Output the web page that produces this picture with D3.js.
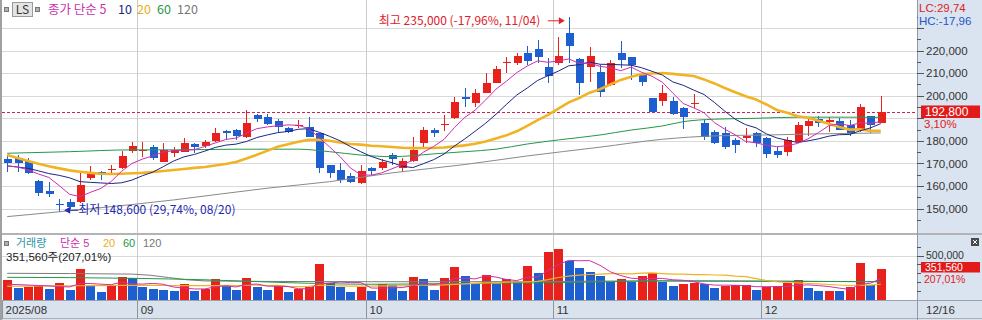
<!DOCTYPE html>
<html><head><meta charset="utf-8">
<script src="https://cdn.jsdelivr.net/npm/d3@7/dist/d3.min.js"></script>
<style>html,body{margin:0;padding:0;background:#fff;overflow:hidden}svg{display:block}</style>
</head><body><svg id="chart" width="982" height="320"></svg>
<script>
// ---------------- DATA ----------------
const dates = ["08/12","08/13","08/14","08/18","08/19","08/20","08/21","08/22","08/25","08/26","08/27","08/28","08/29",
"09/01","09/02","09/03","09/04","09/05","09/08","09/09","09/10","09/11","09/12","09/15","09/16","09/17","09/18","09/19","09/22","09/23","09/24","09/25","09/26","09/29","09/30",
"10/01","10/02","10/10","10/13","10/14","10/15","10/16","10/17","10/20","10/21","10/22","10/23","10/24","10/27","10/28","10/29","10/30","10/31",
"11/03","11/04","11/05","11/06","11/07","11/10","11/11","11/12","11/13","11/14","11/17","11/18","11/19","11/20","11/21","11/24","11/25","11/26","11/27","11/28",
"12/01","12/02","12/03","12/04","12/05","12/08","12/09","12/10","12/11","12/12","12/15","12/16"];
const open = [171800,172300,171100,162200,157900,152100,153000,153000,163700,166200,
167300,168100,175700,175900,177400,170800,174500,175200,178600,177700,
180100,184500,184800,181900,191500,190700,188800,185900,187000,186000,
183400,169300,167100,164400,161500,168100,167800,173700,167800,171200,
178900,184800,187400,190000,199600,196900,201400,205800,214800,214700,
218800,220600,212900,214400,227700,216200,212900,210700,204800,218800,
217100,209200,198900,197800,197800,194500,196600,187800,183800,183400,
180400,181800,183600,181200,175700,175200,179600,186600,189600,188900,
189000,187100,184800,191000,188100];
const close = [170100,170100,165600,156800,156300,152000,150800,160400,166300,165000,
167500,173300,177700,176000,172300,176000,176000,178900,177200,179600,
183600,183600,182300,187800,189700,187400,186300,184100,187100,181900,
167800,165600,162700,161900,166800,166800,170800,171800,171200,176000,
184800,183600,187600,197400,198600,201100,205800,211800,214900,217700,
215600,217300,208800,217700,222200,205800,217700,201800,214400,215900,
213700,206300,192900,201100,191800,190700,196800,181900,179200,177200,
178200,182000,178900,174200,173700,180400,187100,189000,188100,189100,
184800,182900,195200,187000,192800];
const high = [173700,173700,172400,162700,161900,154100,154100,166300,168900,166500,
169300,175700,179600,179600,178200,178900,177400,181200,178900,180400,
185600,184800,185100,193700,191800,191900,189600,186300,189300,190500,
183600,169500,170100,165600,169300,168600,171800,174500,172300,181900,
186000,185600,191500,199600,203300,202900,210200,213200,217100,218800,
222100,224700,216600,226200,235000,216600,221800,213700,215900,224400,
217300,210200,199000,204800,199600,195200,200800,189300,184800,186000,
181200,185600,184100,181600,177400,181600,188500,190700,191000,190500,
190000,189300,196200,191100,199900];
const low = [166200,166200,165200,155600,155300,148600,149800,152300,162700,162700,
165300,167700,174500,173000,171500,170500,173000,174900,174500,176900,
179600,180400,180400,181200,188500,187000,183800,183600,185600,181600,
165900,163400,161200,161200,160900,164900,167100,169300,166300,170800,
177400,181600,184500,189600,194900,195200,201100,205500,210000,213700,
213700,214700,205800,213700,214400,200400,206300,199300,204300,212200,
207000,204300,192800,195500,191500,185300,194500,180400,178600,176300,
174800,178900,177200,172300,172300,173300,178900,182200,186300,184100,
184600,182200,184100,183600,187800];
const volume = [222600,127600,146000,157500,120000,185000,108000,344700,154000,82000,
157500,253000,242000,146000,120000,108000,97000,177000,100000,120000,
230000,157000,108000,242000,146000,108000,154000,89000,116000,146000,
405000,185000,146000,82000,146000,97000,177000,165000,97000,253000,
230000,108000,242000,367000,268000,192000,280000,173000,230000,203000,
382000,299000,539000,573000,443000,356000,310000,268000,203000,230000,
203000,268000,299000,203000,154000,173000,185000,173000,135000,154000,
165000,168000,108000,139000,154000,185000,222000,135000,97000,100000,
97000,146000,420000,169830,351560];
const ma5Head  = [168900,168400,167100,165300];
const ma10Head = [168900,168400,167800,166700,165500,164700,163600,161900,161600];
const ma20Head = [173700,172400,171100,169800,168700,167800,166900,166300,165800,165400,
                  165300,165400,165600,165800,166200,166600,167100,167500,168000];
const ma60Pts  = [[0,174500],[6,175200],[12,176000],[16,176000],[22,176300],[25,176300],[28,176300],[31,175200],
                  [34,173700],[37,173000],[41,174200],[44,175200],[47,176300],[50,178600],[53,180400],[57,182600],
                  [60,184800],[63,186600],[65,188500],[68,189600],[72,190000],[76,190500],[81,190500],[84,190400]];
const ma120Pts = [[0,146400],[16,153800],[25,159000],[31,161900],[37,165800],[44,169500],[50,173300],
                  [57,177200],[63,180700],[68,182200],[73,182600],[78,183100],[84,183500]];
const volMa5Head  = [175000,170000,165000,160000];
const volMa20Head = [150000,152000,153000,154000,155000,156000,156000,157000,158000,159000,
                     160000,161000,162000,162000,161000,160000,159000,158000,158000];
const volMa60Pts  = [[0,253000],[12,242000],[19,225000],[27,192000],[35,174000],[44,183000],[53,192000],[63,211000],[72,208000],[84,203000]];
const volMa120Pts = [[0,299000],[12,290000],[19,212000],[28,205000],[35,203000],[44,203000],[52,205000],[63,214000],[72,211000],[84,203000]];
const priceTicks = [150000,160000,170000,180000,190000,200000,210000,220000,230000];
const volTicks = [500000];
const monthStarts = ["08/12","09/01","10/01","11/03","12/01"];
const monthLabels = ["2025/08","09","10","11","12"];

// ---------------- SETUP ----------------
const FONT = "'Noto Sans CJK KR','Noto Sans',sans-serif";
const RFONT = "'Liberation Sans',Arial,sans-serif";
const MFONT = "'Liberation Sans','Noto Sans CJK KR',sans-serif";
const W = 982, H = 320, AX = 917;
const RED = "#e8211d", BLUE = "#1e5fd0";
const C5 = "#cc2fae", C10 = "#1c2682", C20 = "#f0b324", C60 = "#23984a", C120 = "#8a8a8a";
const n = dates.length;
const svg = d3.select("#chart").attr("font-family", FONT);

const xi = d3.scaleLinear().domain([-0.5, n - 0.5]).range([2, 886]);
const y  = d3.scaleLinear().domain([150000, 230000]).range([208.5, 28.1]);
const yv = d3.scaleLinear().domain([0, 500000]).range([299.5, 255.7]);

function rolling(vals, win, head) {
  return vals.map((v, i) => i < win - 1 ? head[i] : d3.mean(vals.slice(i - win + 1, i + 1)));
}
const ma5 = rolling(close, 5, ma5Head), ma10 = rolling(close, 10, ma10Head), ma20 = rolling(close, 20, ma20Head);
const vma5 = rolling(volume, 5, volMa5Head), vma20 = rolling(volume, 20, volMa20Head);
const last = close[n - 1];
const lastV = volume[n - 1];

// backgrounds
svg.append("rect").attr("width", W).attr("height", H).attr("fill", "#fff");
svg.append("rect").attr("x", AX).attr("y", 0).attr("width", W - AX).attr("height", H).attr("fill", "#dae4f0");
svg.append("rect").attr("x", 0).attr("y", 300).attr("width", W).attr("height", 20).attr("fill", "#d9e2ed");

const defs = svg.append("defs");
defs.append("clipPath").attr("id", "cp").append("rect").attr("x", 2).attr("y", 0).attr("width", AX - 2).attr("height", 233);
defs.append("clipPath").attr("id", "cv").append("rect").attr("x", 2).attr("y", 236).attr("width", AX - 2).attr("height", 64);

// gridlines
const grid = svg.append("g").attr("shape-rendering", "crispEdges");
grid.selectAll(".hg").data(priceTicks).join("line")
  .attr("x1", 2).attr("x2", AX).attr("y1", d => Math.round(y(d)) + 0.5).attr("y2", d => Math.round(y(d)) + 0.5)
  .attr("stroke", "#d9d9d9");
grid.selectAll(".vg").data(volTicks).join("line")
  .attr("x1", 2).attr("x2", AX).attr("y1", d => Math.round(yv(d)) + 0.5).attr("y2", d => Math.round(yv(d)) + 0.5)
  .attr("stroke", "#d9d9d9");
const monthIdx = monthStarts.map(d => dates.indexOf(d));
grid.selectAll(".mg").data(monthIdx.slice(1)).join("line")
  .attr("x1", d => Math.round(xi(d - 0.5)) + 0.5).attr("x2", d => Math.round(xi(d - 0.5)) + 0.5)
  .attr("y1", 0).attr("y2", 300).attr("stroke", "#cacaca");

// ---------------- PRICE PANEL ----------------
const pp = svg.append("g").attr("clip-path", "url(#cp)");
pp.append("line").attr("x1", 2).attr("x2", AX).attr("y1", Math.round(y(last)) + 0.5).attr("y2", Math.round(y(last)) + 0.5)
  .attr("stroke", "#d61f4f").attr("stroke-dasharray", "3,2").attr("shape-rendering", "crispEdges");

function candleColor(i) {
  if (close[i] > open[i]) return RED;
  if (close[i] < open[i]) return BLUE;
  return (i > 0 && close[i] < close[i - 1]) ? BLUE : RED;
}
const cg = pp.append("g").attr("shape-rendering", "crispEdges");
d3.range(n).forEach(i => {
  const cx = Math.round(xi(i)), col = candleColor(i);
  cg.append("line").attr("x1", cx + 0.5).attr("x2", cx + 0.5).attr("y1", y(high[i])).attr("y2", y(low[i])).attr("stroke", col);
  const t = y(Math.max(open[i], close[i])), b = y(Math.min(open[i], close[i]));
  cg.append("rect").attr("x", cx - 3.5).attr("width", 8).attr("y", t).attr("height", Math.max(1.2, b - t)).attr("fill", col);
});

const lineI = sc => d3.line().x((d, i) => xi(i)).y(d => sc(d));
const lineP = sc => d3.line().x(d => xi(d[0])).y(d => sc(d[1])).curve(d3.curveMonotoneX);
pp.append("path").attr("d", lineP(y)(ma120Pts)).attr("fill", "none").attr("stroke", C120).attr("stroke-width", 1);
pp.append("path").attr("d", lineP(y)(ma60Pts)).attr("fill", "none").attr("stroke", C60).attr("stroke-width", 1);
pp.append("path").attr("d", lineI(y)(ma20)).attr("fill", "none").attr("stroke", C20).attr("stroke-width", 2.6);
pp.append("path").attr("d", lineI(y)(ma10)).attr("fill", "none").attr("stroke", C10).attr("stroke-width", 1);
pp.append("path").attr("d", lineI(y)(ma5)).attr("fill", "none").attr("stroke", C5).attr("stroke-width", 1);

// ---------------- VOLUME PANEL ----------------
const vp = svg.append("g").attr("clip-path", "url(#cv)");
const vg = vp.append("g").attr("shape-rendering", "crispEdges");
d3.range(n).forEach(i => {
  const cx = Math.round(xi(i));
  const col = (i === 0 || volume[i] >= volume[i - 1]) ? RED : BLUE;
  vg.append("rect").attr("x", cx - 4).attr("width", 9).attr("y", yv(volume[i])).attr("height", yv(0) - yv(volume[i])).attr("fill", col);
});
vp.append("path").attr("d", lineP(yv)(volMa120Pts)).attr("fill", "none").attr("stroke", "#7c7c7c").attr("stroke-width", 1);
vp.append("path").attr("d", lineP(yv)(volMa60Pts)).attr("fill", "none").attr("stroke", C60).attr("stroke-width", 1);
vp.append("path").attr("d", lineI(yv)(vma20)).attr("fill", "none").attr("stroke", C20).attr("stroke-width", 1.2);
vp.append("path").attr("d", lineI(yv)(vma5)).attr("fill", "none").attr("stroke", C5).attr("stroke-width", 1);

// ---------------- FRAMES ----------------
const fr = svg.append("g").attr("shape-rendering", "crispEdges");
fr.append("rect").attr("x", 0).attr("y", 233).attr("width", W).attr("height", 2).attr("fill", "#b4b4b4");
fr.append("line").attr("x1", 0).attr("x2", W).attr("y1", 300.5).attr("y2", 300.5).attr("stroke", "#9aa3ad");
fr.append("line").attr("x1", 0).attr("x2", W).attr("y1", 318.5).attr("y2", 318.5).attr("stroke", "#a8b0ba");
fr.append("line").attr("x1", AX + 0.5).attr("x2", AX + 0.5).attr("y1", 0).attr("y2", H).attr("stroke", "#8e9aa8");
fr.append("rect").attr("x", 0).attr("y", 0).attr("width", 2).attr("height", H).attr("fill", "#a0a0a0");

// ---------------- AXES ----------------
function styleAxis(g, fs) {
  g.select(".domain").remove();
  g.attr("font-family", RFONT).attr("font-size", fs);
  g.selectAll("line").attr("stroke", "#555").attr("shape-rendering", "crispEdges");
  g.selectAll("text").attr("fill", "#333");
}
const yl = y(last);
// labels hidden by the current-price box or the LC/HC header are not drawn (as in the original)
const priceLabel = d => (Math.abs(y(d) - yl) < 13 || y(d) < 33) ? "" : d3.format(",")(d);

const gMinor = svg.append("g").attr("transform", `translate(${AX},0)`)
  .call(d3.axisRight(y).tickValues(d3.range(145000, 240000, 5000)).tickSize(4).tickFormat(""));
styleAxis(gMinor, 11);
const gY = svg.append("g").attr("transform", `translate(${AX},0)`)
  .call(d3.axisRight(y).tickValues(priceTicks).tickFormat(priceLabel).tickSize(7).tickPadding(2));
styleAxis(gY, 11.5);
const gVm = svg.append("g").attr("transform", `translate(${AX},0)`)
  .call(d3.axisRight(yv).tickValues(d3.range(100000, 700000, 100000)).tickSize(4).tickFormat(""));
styleAxis(gVm, 10.5);
const gV = svg.append("g").attr("transform", `translate(${AX},0)`)
  .call(d3.axisRight(yv).tickValues(volTicks).tickFormat(d3.format(",")).tickSize(7).tickPadding(2));
styleAxis(gV, 10.5);
gV.selectAll("text").attr("dy", "0.25em");

const gX = svg.append("g").attr("transform", "translate(0,300)")
  .call(d3.axisBottom(xi).tickValues(monthIdx.map(i => i - 0.5)).tickFormat((d, j) => monthLabels[j]).tickSize(19).tickPadding(0));
gX.select(".domain").remove();
gX.attr("font-family", RFONT).attr("font-size", 11.5);
gX.selectAll("line").attr("stroke", "#8c96a2").attr("shape-rendering", "crispEdges");
gX.selectAll("text").attr("fill", "#333").attr("text-anchor", "start").attr("x", 3).attr("y", 10).attr("dy", "0.35em");
svg.append("text").attr("x", 926).attr("y", 309.5).attr("dy", "0.35em").attr("font-family", RFONT).attr("font-size", 11.5).attr("fill", "#333").text(dates[n - 1]);

// ---------------- RIGHT LABELS ----------------
const fmt = d3.format(",");
const pctStr = v => v.toFixed(2).replace(".", ",");
const hiIdx = d3.maxIndex(high), loIdx = d3.minIndex(low);
const rt = (xp, yp, fs, col, txt) => svg.append("text").attr("x", xp).attr("y", yp).attr("dy", "0.35em")
  .attr("font-family", RFONT).attr("font-size", fs).attr("fill", col).text(txt);
svg.append("rect").attr("x", AX + 1).attr("y", 0).attr("width", W - AX - 1).attr("height", 26).attr("fill", "#dae4f0");
rt(919, 8.2, 11.5, "#e02020", "LC:" + pctStr((last - low[loIdx]) / low[loIdx] * 100));
rt(919, 21, 11.5, "#2456c8", "HC:" + pctStr((last - high[hiIdx]) / high[hiIdx] * 100));

svg.append("rect").attr("x", 921).attr("y", yl - 6.5).attr("width", 59).attr("height", 12.5).attr("fill", "#e21a1a");
rt(925, yl - 0.3, 12, "#fff", fmt(last));
rt(924, yl + 11.8, 11.5, "#e02020", pctStr((last - close[n - 2]) / close[n - 2] * 100) + "%");

svg.append("rect").attr("x", 921).attr("y", 262).attr("width", 59).attr("height", 10.5).attr("fill", "#e21a1a");
rt(925, 267.3, 10.5, "#fff", fmt(lastV));
rt(924, 279.4, 10.5, "#e02020", pctStr(lastV / volume[n - 2] * 100) + "%");
// small close button
svg.append("rect").attr("x", 971).attr("y", 238).attr("width", 8).attr("height", 8).attr("fill", "#4a4a4a");
svg.append("path").attr("d", "M973,240L977,244M977,240L973,244").attr("stroke", "#fff").attr("stroke-width", 1);

// ---------------- LEGENDS ----------------
function sq(xp, yp) {
  svg.append("rect").attr("x", xp + 0.5).attr("y", yp + 0.5).attr("width", 4).attr("height", 4)
    .attr("fill", "#b0b0b0").attr("stroke", "#777").attr("shape-rendering", "crispEdges");
}
sq(4, 7); sq(35, 7);
svg.append("rect").attr("x", 12.5).attr("y", 2.5).attr("width", 20).attr("height", 14).attr("fill", "#e4e4e4").attr("stroke", "#9a9a9a");
svg.append("text").attr("x", 22.5).attr("y", 10).attr("dy", "0.35em").attr("text-anchor", "middle").attr("font-size", 12).attr("fill", "#333").text("LS");
[["종가 단순 5", C5, 48], ["10", C10, 118], ["20", "#e8b020", 137], ["60", C60, 157], ["120", "#777", 177]].forEach(([t, c, xp]) =>
  svg.append("text").attr("x", xp).attr("y", 10).attr("dy", "0.35em").attr("font-size", 12.5).attr("fill", c).text(t));

sq(4, 241);
[["거래량", "#2f93a8", 16], ["단순 5", C5, 60], ["20", "#e8b020", 103], ["60", C60, 123], ["120", "#777", 143]].forEach(([t, c, xp]) =>
  svg.append("text").attr("x", xp).attr("y", 243.5).attr("dy", "0.35em").attr("font-family", MFONT).attr("font-size", 11).attr("fill", c).text(t));
svg.append("text").attr("x", 6).attr("y", 257).attr("dy", "0.35em").attr("font-family", MFONT).attr("font-size", 11.5).attr("fill", "#222")
  .text(fmt(lastV) + "주(" + pctStr(lastV / volume[n - 2] * 100) + "%)");

// ---------------- HIGH / LOW ANNOTATIONS ----------------
const hx = xi(hiIdx), hy = y(high[hiIdx]);
svg.append("text").attr("x", hx - 190).attr("y", hy + 3.5).attr("dy", "0.35em").attr("font-size", 12).attr("fill", "#e0202a")
  .text("최고 " + fmt(high[hiIdx]) + " (" + pctStr((last - high[hiIdx]) / high[hiIdx] * 100) + "%, " + dates[hiIdx] + ")");
svg.append("line").attr("x1", hx - 21).attr("x2", hx - 9).attr("y1", hy + 4).attr("y2", hy + 4).attr("stroke", "#e0202a");
svg.append("path").attr("d", `M${hx - 4},${hy + 4}L${hx - 10},${hy + 0.5}L${hx - 10},${hy + 7.5}Z`).attr("fill", "#e0202a");

const lx = xi(loIdx), ly = y(low[loIdx]);
svg.append("text").attr("x", lx + 19).attr("y", ly - 1.5).attr("dy", "0.35em").attr("font-size", 12).attr("fill", "#1f2bb0")
  .text("최저 " + fmt(low[loIdx]) + " (" + pctStr((last - low[loIdx]) / low[loIdx] * 100) + "%, " + dates[loIdx] + ")");
svg.append("line").attr("x1", lx + 10).attr("x2", lx + 19).attr("y1", ly - 1.5).attr("y2", ly - 1.5).attr("stroke", "#1f2bb0");
svg.append("path").attr("d", `M${lx + 5},${ly - 1.5}L${lx + 11},${ly - 5}L${lx + 11},${ly + 2}Z`).attr("fill", "#1f2bb0");
</script></body></html>
